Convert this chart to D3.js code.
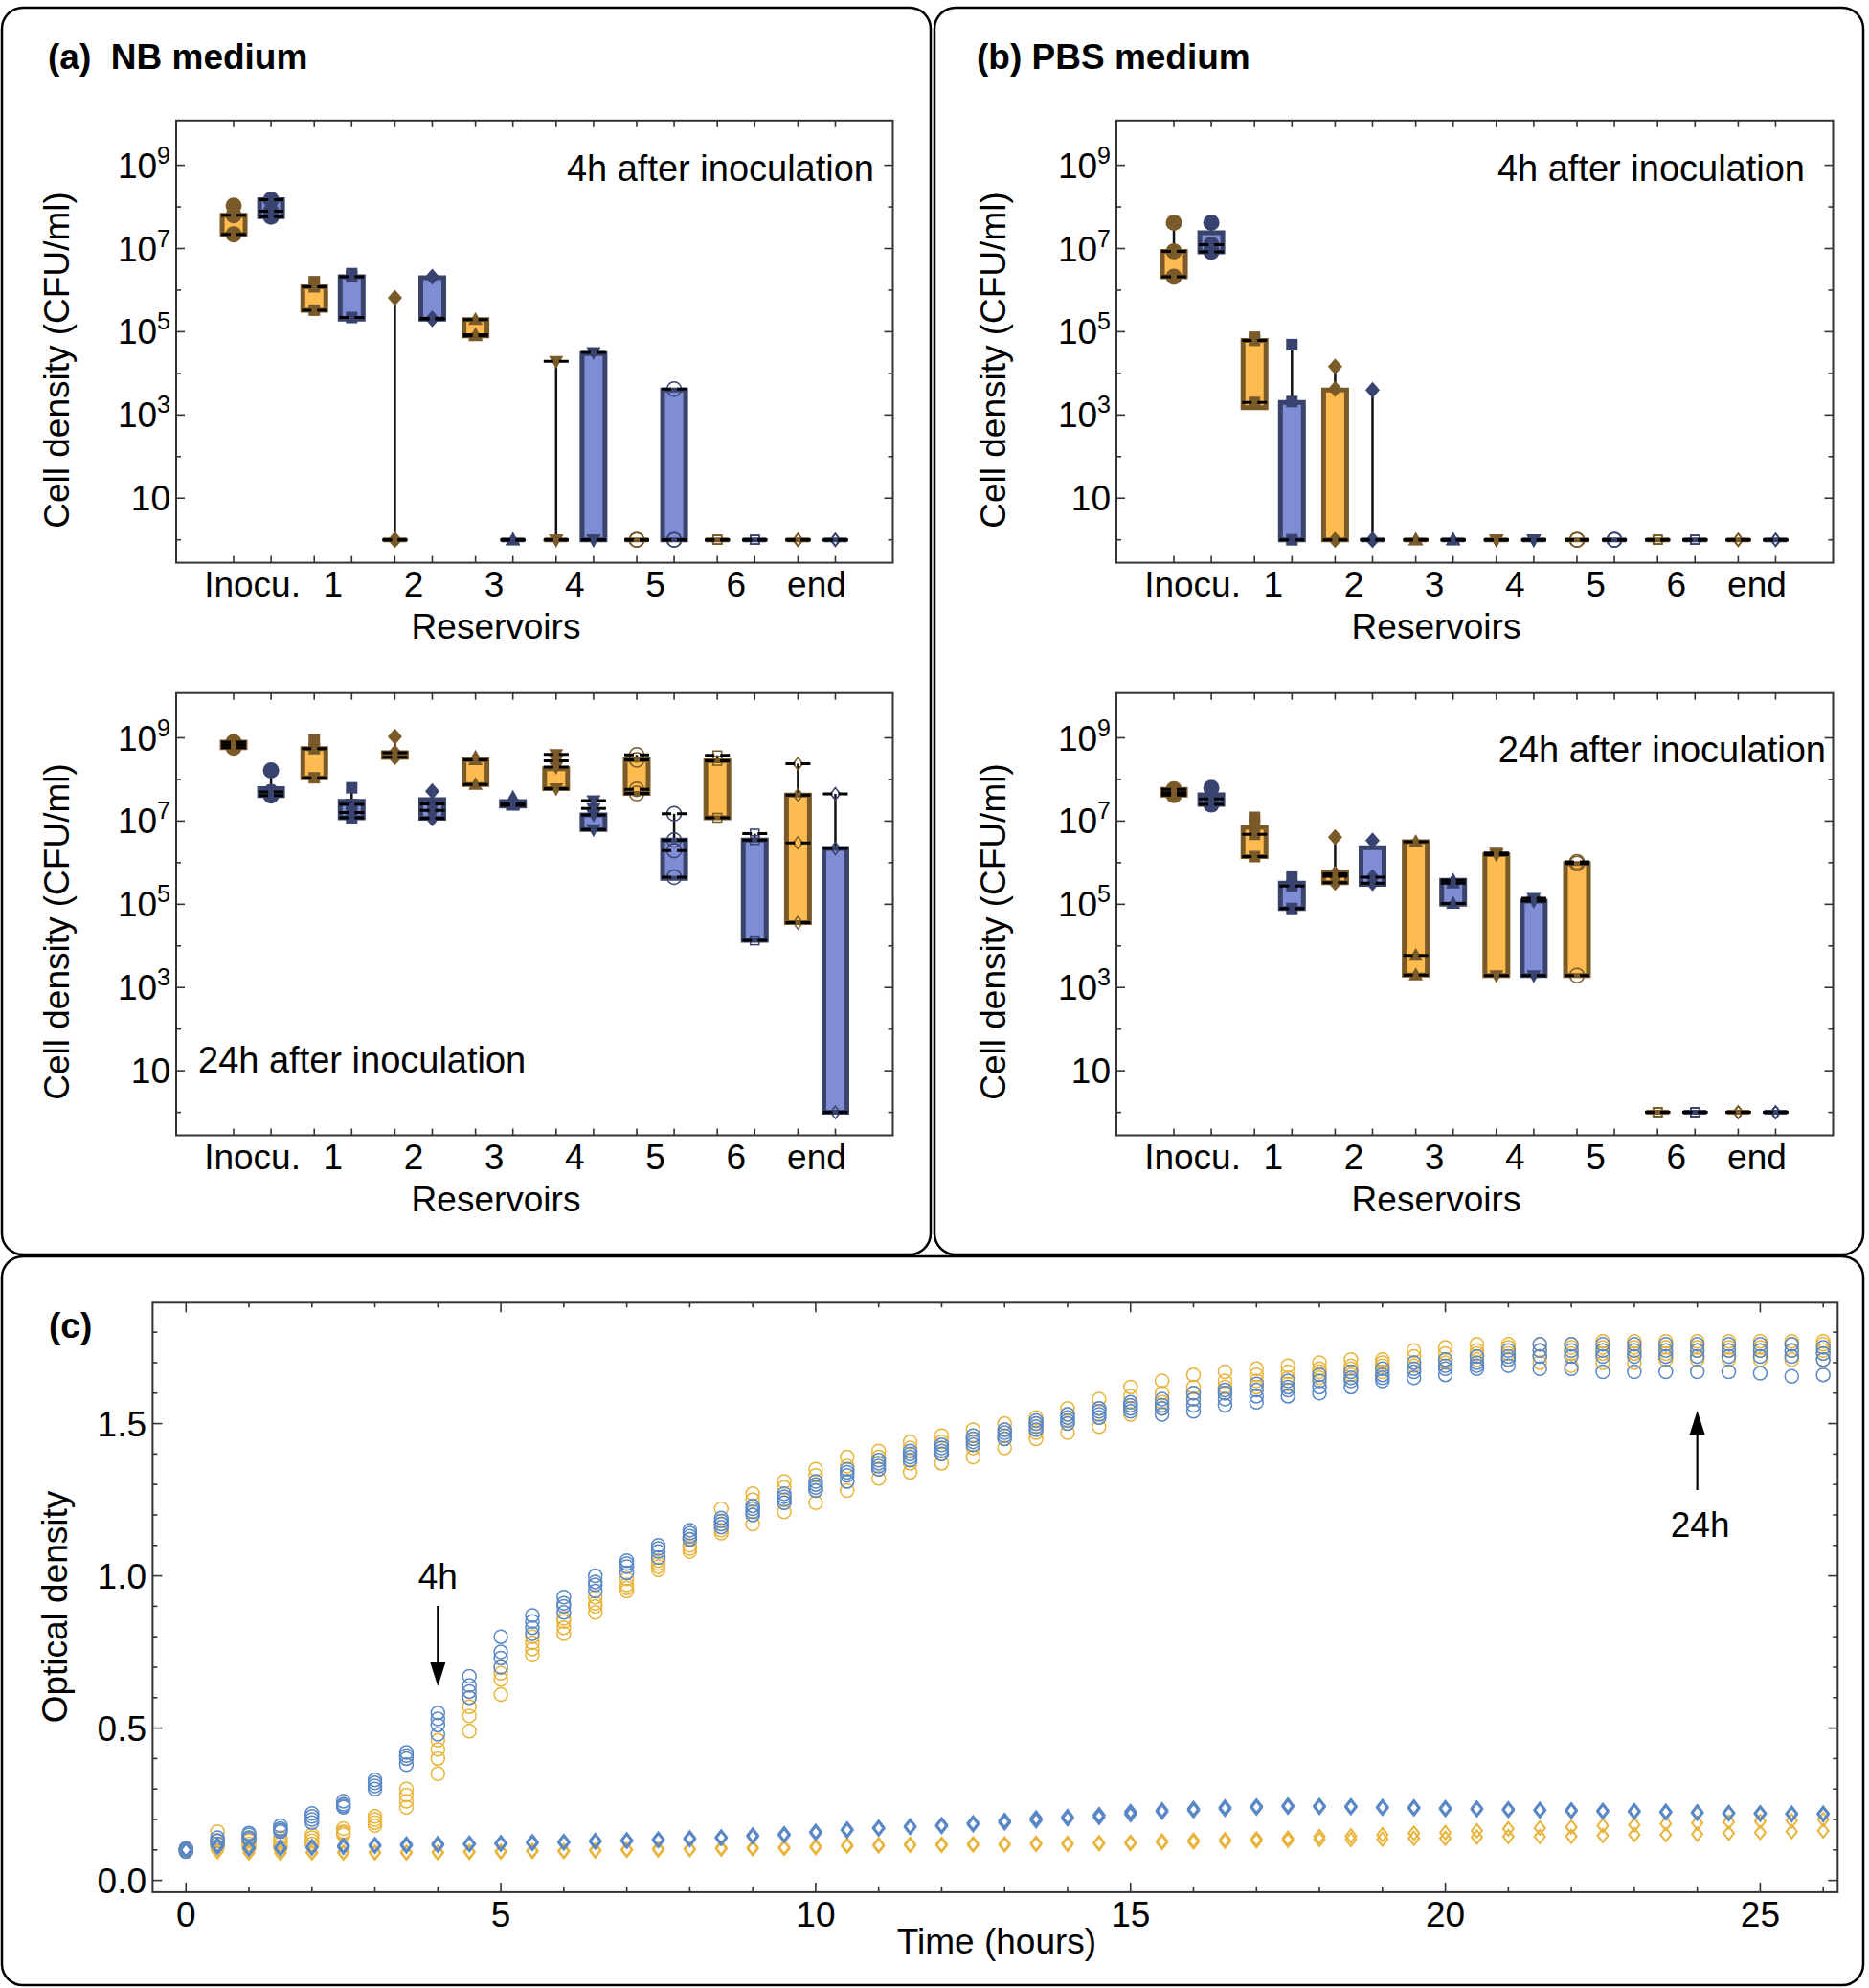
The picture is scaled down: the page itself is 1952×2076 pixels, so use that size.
<!DOCTYPE html>
<html><head><meta charset="utf-8">
<script src="https://cdn.jsdelivr.net/npm/d3@7"></script>
<style>
body{margin:0;background:#fff}
svg{display:block}
text{font-family:"Liberation Sans",Arial,Helvetica,sans-serif;fill:#000}
</style>
</head><body>
<svg id="fig" width="1952" height="2076"></svg>
<script>
// ---------------- DATA ----------------
const reservoirs = ["Inocu.","1","2","3","4","5","6","end"];
const cfuTickExponents = [1,3,5,7,9];

// NB medium, 4h (CFU/ml; 1 = below detection)
const nb4hOrangePts = [[1.07e8,6.3e7,2.2e7],[1.6e6,1.2e6,3.3e5],[6.5e5,1,1],[1.95e5,8.5e4,7.9e4],[1.95e4,1,1],[1,1,1],[1,1,1],[1,1,1]];
const nb4hOrangeBox = [[2.2e7,6.3e7],[3.3e5,1.2e6],[1,1],[7.9e4,1.95e5],[1,1],[1,1],[1,1],[1,1]];
const nb4hBluePts = [[1.5e8,7.9e7,5.8e7],[2.5e6,2.1e6,2.2e5],[2.1e6,2.1e5,2.0e5],[1,1,1],[3.2e4,1,1],[4.2e3,1,1],[1,1,1],[1,1,1]];
const nb4hBlueBox = [[5.8e7,1.5e8],[2.0e5,2.1e6],[2.0e5,2.0e6],[1,1],[1,3.0e4],[1,4.0e3],[1,1],[1,1]];

// PBS medium, 4h
const pbs4hOrangePts = [[4.2e7,8.5e6,2.1e6],[7.4e4,6.2e4,2.0e3],[1.45e4,4.2e3,1],[1,1,1],[1,1,1],[1,1,1],[1,1,1],[1,1,1]];
const pbs4hOrangeBox = [[2.1e6,8.5e6],[1.5e3,6.2e4],[1,4.0e3],[1,1],[1,1],[1,1],[1,1],[1,1]];
const pbs4hBluePts = [[4.2e7,1.23e7,8.3e6],[4.9e4,2.1e3,1],[4.0e3,1,1],[1,1,1],[1,1,1],[1,1,1],[1,1,1],[1,1,1]];
const pbs4hBlueBox = [[8.3e6,2.4e7],[1,2.0e3],[1,1],[1,1],[1,1],[1,1],[1,1],[1,1]];

// NB medium, 24h
const nb24hOrangePts = [[7.9e8,6.8e8,5.8e8],[8.9e8,5.5e8,1.1e8],[1.07e9,4.4e8,3.4e8],[3.4e8,2.95e8,7.6e7],[4.0e8,2.8e8,2.0e8,6.0e7],[3.9e8,2.95e8,5.8e7,4.6e7],[3.8e8,2.8e8,1.2e7],[2.4e8,4.2e7,3.0e6,3.6e4]];
const nb24hOrangeBox = [[5.8e8,7.9e8],[1.1e8,5.5e8],[3.4e8,4.4e8],[7.6e7,2.95e8],[6.0e7,1.8e8],[4.6e7,2.95e8],[1.2e7,2.8e8],[3.6e4,4.2e7]];
const nb24hBluePts = [[1.66e8,5.0e7,4.1e7],[6.3e7,2.5e7,1.6e7,1.2e7],[5.2e7,2.6e7,1.8e7,1.17e7],[3.7e7,2.6e7,2.4e7],[3.1e7,2.0e7,1.4e7,6.3e6],[1.5e7,3.5e6,1.95e6,4.5e5],[5.0e6,3.5e6,1.35e4],[4.5e7,2.2e6,1]];
const nb24hBlueBox = [[4.1e7,6.0e7],[1.2e7,3.0e7],[1.17e7,3.3e7],[2.3e7,2.95e7],[6.3e6,1.4e7],[4.2e5,3.5e6],[1.35e4,3.5e6],[1,2.2e6]];

// PBS medium, 24h
const pbs24hOrangePts = [[5.8e7,4.8e7,4.2e7],[1.23e7,9.3e6,4.8e6,1.4e6],[4.1e6,5.4e5,4.7e5,3.3e5],[3.2e6,5.9e3,2.0e3],[1.7e6,1.55e6,1.95e3],[1.05e6,9.5e5,1.95e3],[1,1,1],[1,1,1]];
const pbs24hOrangeBox = [[4.2e7,5.8e7],[1.4e6,7.1e6],[3.3e5,5.9e5],[2.0e3,3.2e6],[1.95e3,1.55e6],[1.95e3,9.5e5],[1,1],[1,1]];
const pbs24hBluePts = [[6.3e7,3.4e7,2.5e7],[4.5e5,2.75e5,7.9e4],[3.4e6,4.5e5,3.2e5],[3.8e5,3.2e5,1.05e5],[1.4e5,1.2e5,1.95e3],null,[1,1,1],[1,1,1]];
const pbs24hBlueBox = [[2.5e7,4.3e7],[7.9e4,3.2e5],[3.0e5,2.3e6],[1.0e5,3.8e5],[1.95e3,1.2e5],null,[1,1],[1,1]];

// (c) optical density
const hours = [0,0.5,1,1.5,2,2.5,3,3.5,4,4.5,5,5.5,6,6.5,7,7.5,8,8.5,9,9.5,10,10.5,11,11.5,12,12.5,13,13.5,14,14.5,15,15.5,16,16.5,17,17.5,18,18.5,19,19.5,20,20.5,21,21.5,22,22.5,23,23.5,24,24.5,25,25.5,26];
const odTicks = [0,0.5,1,1.5];
const timeTicks = [0,5,10,15,20,25];

const odNbOrange = [
[0.105,0.10,0.10,0.095],[0.16,0.13,0.12,0.11],[0.14,0.13,0.12,0.11],[0.14,0.13,0.12,0.11],[0.15,0.14,0.13,0.12],
[0.17,0.16,0.155,0.15],[0.21,0.20,0.19,0.18],[0.30,0.28,0.26,0.24],[0.46,0.43,0.40,0.35],[0.60,0.57,0.54,0.49],
[0.70,0.68,0.66,0.61],[0.80,0.78,0.76,0.74],[0.86,0.85,0.83,0.81],[0.93,0.91,0.90,0.88],[0.99,0.97,0.96,0.95],
[1.05,1.04,1.03,1.02],[1.12,1.10,1.09,1.08],[1.22,1.17,1.15,1.14],[1.27,1.25,1.20,1.17],[1.31,1.29,1.24,1.21],
[1.35,1.33,1.28,1.24],[1.39,1.36,1.31,1.28],[1.41,1.39,1.35,1.32],[1.44,1.42,1.37,1.34],[1.46,1.44,1.40,1.37],
[1.48,1.45,1.42,1.39],[1.50,1.48,1.45,1.42],[1.52,1.50,1.47,1.45],[1.55,1.53,1.50,1.47],[1.58,1.55,1.52,1.49],
[1.62,1.59,1.56,1.53],[1.64,1.60,1.57,1.55],[1.66,1.62,1.60,1.58],[1.67,1.64,1.62,1.60],[1.68,1.66,1.64,1.62],
[1.69,1.67,1.65,1.63],[1.70,1.68,1.67,1.65],[1.71,1.69,1.68,1.66],[1.71,1.70,1.69,1.67],[1.74,1.72,1.70,1.69],
[1.75,1.73,1.71,1.70],[1.76,1.74,1.73,1.71],[1.76,1.75,1.73,1.71],[1.76,1.74,1.72,1.70],[1.76,1.75,1.73,1.69],
[1.77,1.75,1.73,1.70],[1.77,1.75,1.73,1.70],[1.77,1.75,1.73,1.71],[1.77,1.75,1.74,1.71],[1.77,1.75,1.74,1.71],
[1.77,1.75,1.74,1.71],[1.77,1.76,1.74,1.71],[1.77,1.76,1.74,1.71]];

const odNbBlue = [
[0.105,0.10,0.10,0.095],[0.14,0.13,0.13,0.12],[0.155,0.15,0.14,0.135],[0.18,0.17,0.165,0.16],[0.22,0.21,0.20,0.19],
[0.26,0.25,0.245,0.24],[0.33,0.32,0.31,0.30],[0.42,0.41,0.40,0.38],[0.55,0.53,0.51,0.48],[0.67,0.64,0.62,0.60],
[0.80,0.75,0.73,0.70],[0.87,0.85,0.83,0.81],[0.93,0.91,0.90,0.88],[1.00,0.98,0.97,0.95],[1.05,1.04,1.03,1.01],
[1.10,1.09,1.08,1.06],[1.15,1.14,1.13,1.12],[1.19,1.18,1.17,1.16],[1.23,1.22,1.21,1.20],[1.27,1.26,1.25,1.24],
[1.31,1.30,1.29,1.28],[1.35,1.34,1.33,1.31],[1.38,1.37,1.36,1.35],[1.41,1.40,1.39,1.38],[1.43,1.42,1.41,1.40],
[1.46,1.45,1.44,1.43],[1.48,1.47,1.46,1.45],[1.51,1.50,1.49,1.48],[1.53,1.52,1.51,1.50],[1.55,1.54,1.53,1.52],
[1.57,1.56,1.55,1.54],[1.58,1.56,1.55,1.53],[1.60,1.58,1.56,1.54],[1.61,1.60,1.58,1.56],[1.63,1.61,1.59,1.57],
[1.64,1.62,1.61,1.59],[1.66,1.64,1.62,1.60],[1.67,1.65,1.64,1.62],[1.68,1.66,1.65,1.64],[1.70,1.68,1.67,1.65],
[1.71,1.69,1.68,1.66],[1.72,1.70,1.69,1.68],[1.74,1.72,1.71,1.69],[1.76,1.74,1.72,1.68],[1.76,1.74,1.72,1.68],
[1.76,1.74,1.72,1.67],[1.76,1.74,1.72,1.67],[1.76,1.74,1.72,1.67],[1.76,1.74,1.72,1.67],[1.76,1.74,1.72,1.67],
[1.76,1.74,1.72,1.665],[1.76,1.74,1.72,1.655],[1.75,1.73,1.71,1.66]];

const odPbsOrange = [
[0.10,0.10],[0.097,0.094],[0.093,0.09],[0.092,0.089],[0.093,0.09],[0.093,0.09],[0.093,0.09],[0.093,0.09],[0.093,0.09],[0.095,0.092],
[0.096,0.093],[0.098,0.095],[0.098,0.095],[0.10,0.097],[0.102,0.099],[0.104,0.10],[0.104,0.101],[0.107,0.103],[0.108,0.104],[0.109,0.105],
[0.112,0.108],[0.116,0.112],[0.117,0.113],[0.119,0.115],[0.119,0.115],[0.12,0.116],[0.12,0.116],[0.122,0.118],[0.122,0.118],[0.124,0.12],
[0.125,0.121],[0.129,0.124],[0.132,0.126],[0.134,0.128],[0.136,0.13],[0.138,0.131],[0.144,0.134],[0.146,0.134],[0.150,0.135],[0.155,0.138],
[0.157,0.138],[0.163,0.142],[0.169,0.144],[0.172,0.144],[0.175,0.145],[0.18,0.147],[0.182,0.15],[0.186,0.15],[0.188,0.152],[0.192,0.155],
[0.194,0.157],[0.196,0.16],[0.20,0.163]];

const odPbsBlue = [
[0.10,0.10],[0.115,0.11],[0.108,0.104],[0.108,0.105],[0.11,0.107],[0.114,0.11],[0.117,0.113],[0.118,0.114],[0.12,0.116],[0.121,0.118],
[0.123,0.12],[0.126,0.122],[0.127,0.124],[0.13,0.127],[0.132,0.129],[0.135,0.132],[0.139,0.135],[0.142,0.139],[0.148,0.144],[0.152,0.148],
[0.16,0.156],[0.168,0.164],[0.173,0.17],[0.178,0.175],[0.182,0.178],[0.188,0.184],[0.196,0.19],[0.204,0.197],[0.209,0.203],[0.215,0.208],
[0.225,0.217],[0.231,0.225],[0.235,0.23],[0.24,0.235],[0.243,0.239],[0.246,0.242],[0.245,0.241],[0.244,0.24],[0.242,0.238],[0.24,0.236],
[0.238,0.234],[0.236,0.233],[0.234,0.231],[0.232,0.229],[0.231,0.228],[0.229,0.226],[0.228,0.225],[0.226,0.223],[0.224,0.221],[0.222,0.22],
[0.221,0.218],[0.22,0.217],[0.22,0.217]];

// ---------------- DRAWING ----------------
const svg = d3.select("#fig");
const FS = 37;

function panelBorder(x,y,w,h){
  svg.append("rect").attr("x",x).attr("y",y).attr("width",w).attr("height",h)
    .attr("rx",22).attr("ry",22).attr("fill","none").attr("stroke","#000").attr("stroke-width",2.5);
}
panelBorder(2,8,970,1302);
panelBorder(976,8,970,1302);
panelBorder(2,1312,1944,761);

function text(g,x,y,s,opts={}){
  const t=g.append("text").attr("x",x).attr("y",y).text(s)
    .style("font-size",(opts.size||FS)+"px");
  if(opts.anchor) t.attr("text-anchor",opts.anchor);
  if(opts.bold) t.style("font-weight","bold");
  if(opts.pre) t.style("white-space","pre");
  if(opts.rotate) t.attr("transform",`rotate(-90,${x},${y})`);
  return t;
}

function marker(g,type,cx,cy,color){
  switch(type){
    case 0: g.append("circle").attr("cx",cx).attr("cy",cy).attr("r",8.5).attr("fill",color); break;
    case 1: g.append("rect").attr("x",cx-6).attr("y",cy-6).attr("width",12).attr("height",12).attr("fill",color); break;
    case 2: g.append("path").attr("d",`M${cx},${cy-8.5}L${cx+7.5},${cy}L${cx},${cy+8.5}L${cx-7.5},${cy}Z`).attr("fill",color); break;
    case 3: g.append("path").attr("d",`M${cx},${cy-8}L${cx+7.5},${cy+5.5}L${cx-7.5},${cy+5.5}Z`).attr("fill",color); break;
    case 4: g.append("path").attr("d",`M${cx},${cy+8}L${cx+7.5},${cy-5.5}L${cx-7.5},${cy-5.5}Z`).attr("fill",color); break;
    case 5: g.append("circle").attr("cx",cx).attr("cy",cy).attr("r",7.5).attr("fill","none").attr("stroke",color).attr("stroke-width",1.5); break;
    case 6: g.append("rect").attr("x",cx-4.5).attr("y",cy-4.5).attr("width",9).attr("height",9).attr("fill","none").attr("stroke",color).attr("stroke-width",1.5); break;
    case 7: g.append("path").attr("d",`M${cx},${cy-6.5}L${cx+5},${cy}L${cx},${cy+6.5}L${cx-5},${cy}Z`).attr("fill","none").attr("stroke",color).attr("stroke-width",1.5); break;
  }
}

function boxPanel(fx, fy, oPts, oBox, bPts, bBox, note, noteX, noteY, noteAnchor, ylabX, ylabY, xlabX){
  const W=748.5, H=461.8;
  const x = d3.scaleLinear().domain([-0.945, 7.945]).range([fx, fx+W]);
  const y = d3.scaleLog().domain([0.2818, 1.194e10]).range([fy+H, fy]);
  const g = svg.append("g");
  const series = [
    {pts:oPts, box:oBox, off:-0.232, fill:"#FDBB50", stroke:"#7A5A28", mark:"#7A5A28"},
    {pts:bPts, box:bBox, off:0.232, fill:"#7F8DD5", stroke:"#3A4369", mark:"#394370"}
  ];
  const decades = d3.range(0,10).map(e=>Math.pow(10,e));
  decades.forEach((v,i)=>{
    const len = (i%2===1)?9:5;
    const yy=y(v);
    g.append("line").attr("x1",fx).attr("x2",fx+len).attr("y1",yy).attr("y2",yy).attr("stroke","#333").attr("stroke-width",1.6);
    g.append("line").attr("x1",fx+W).attr("x2",fx+W-len).attr("y1",yy).attr("y2",yy).attr("stroke","#333").attr("stroke-width",1.6);
  });
  reservoirs.forEach((r,i)=>{
    series.forEach(s=>{
      const xx=x(i+s.off);
      g.append("line").attr("x1",xx).attr("x2",xx).attr("y1",fy+H).attr("y2",fy+H-7).attr("stroke","#333").attr("stroke-width",1.6);
      g.append("line").attr("x1",xx).attr("x2",xx).attr("y1",fy).attr("y2",fy+7).attr("stroke","#333").attr("stroke-width",1.6);
    });
  });
  reservoirs.forEach((r,i)=>{
    series.forEach(s=>{
      const pts=s.pts[i]; if(!pts) return;
      const cx=x(i+s.off); const [q1,q3]=s.box[i];
      const mx=d3.max(pts), mn=d3.min(pts);
      if(mx>q3) g.append("line").attr("x1",cx).attr("x2",cx).attr("y1",y(q3)).attr("y2",y(mx)).attr("stroke","#111").attr("stroke-width",2.5);
      if(mn<q1) g.append("line").attr("x1",cx).attr("x2",cx).attr("y1",y(q1)).attr("y2",y(mn)).attr("stroke","#111").attr("stroke-width",2.5);
      g.append("path").attr("d",`M${cx-12},${y(q3)}H${cx+12}V${y(q1)}H${cx-12}Z`)
        .attr("fill",s.fill).attr("stroke",s.stroke).attr("stroke-width",5).attr("stroke-linejoin","miter");
      pts.forEach(v=>marker(g,i,cx,y(v),s.mark));
      pts.forEach(v=>{
        const outside = v>q3*1.0001 || v<q1*0.9999;
        if(outside && i<4) return;
        g.append("line").attr("x1",cx-13).attr("x2",cx+13).attr("y1",y(v)).attr("y2",y(v))
          .attr("stroke","#000").attr("stroke-width",3).attr("stroke-dasharray","10,6,10");
      });
    });
  });
  g.append("rect").attr("x",fx).attr("y",fy).attr("width",W).attr("height",H)
    .attr("fill","none").attr("stroke","#333").attr("stroke-width",2);
  cfuTickExponents.forEach(e=>{
    const yy=y(Math.pow(10,e))+13;
    const t=g.append("text").attr("x",fx-6).attr("y",yy).attr("text-anchor","end").style("font-size",FS+"px");
    t.append("tspan").text("10");
    if(e!==1) t.append("tspan").attr("dy",-15).style("font-size","25px").text(String(e));
  });
  reservoirs.forEach((r,i)=>text(g,x(i),fy+H+35,r,{anchor:"middle"}));
  text(g,xlabX,fy+H+79,"Reservoirs",{anchor:"middle"});
  text(g,ylabX,ylabY,"Cell density (CFU/ml)",{anchor:"middle",rotate:true});
  text(g,noteX,noteY,note,{anchor:noteAnchor,size:38});
}

boxPanel(184,125.8,nb4hOrangePts,nb4hOrangeBox,nb4hBluePts,nb4hBlueBox,"4h after inoculation",913,189,"end",72,376,518);
boxPanel(184,723.7,nb24hOrangePts,nb24hOrangeBox,nb24hBluePts,nb24hBlueBox,"24h after inoculation",207,1120,"start",72,973,518);
boxPanel(1166,125.8,pbs4hOrangePts,pbs4hOrangeBox,pbs4hBluePts,pbs4hBlueBox,"4h after inoculation",1885,189,"end",1050,376,1500);
boxPanel(1166,723.7,pbs24hOrangePts,pbs24hOrangeBox,pbs24hBluePts,pbs24hBlueBox,"24h after inoculation",1907,796,"end",1050,973,1500);

text(svg,50,72,"(a)  NB medium",{bold:true,pre:true});
text(svg,1020,72,"(b) PBS medium",{bold:true,pre:true});

// ---------------- panel (c) ----------------
(function(){
  const L=159.4,R=1919.3,T=1360.3,B=1975.9;
  const x=d3.scaleLinear().domain([-0.53,26.23]).range([L,R]);
  const y=d3.scaleLinear().domain([-0.0386,1.897]).range([B,T]);
  const g=svg.append("g");
  const ORANGE="#E8B43C", BLUE="#5A88C6";
  d3.range(0,27).forEach(h=>{
    const len=(h%5===0)?10:5, xx=x(h);
    g.append("line").attr("x1",xx).attr("x2",xx).attr("y1",B).attr("y2",B-len).attr("stroke","#333").attr("stroke-width",1.6);
    g.append("line").attr("x1",xx).attr("x2",xx).attr("y1",T).attr("y2",T+len).attr("stroke","#333").attr("stroke-width",1.6);
  });
  d3.range(0,19).forEach(k=>{
    const v=k/10, len=(k%5===0)?10:5, yy=y(v);
    g.append("line").attr("x1",L).attr("x2",L+len).attr("y1",yy).attr("y2",yy).attr("stroke","#333").attr("stroke-width",1.6);
    g.append("line").attr("x1",R).attr("x2",R-len).attr("y1",yy).attr("y2",yy).attr("stroke","#333").attr("stroke-width",1.6);
  });
  function circles(data,color){
    data.forEach((row,i)=>row.forEach(v=>{
      g.append("circle").attr("cx",x(hours[i])).attr("cy",y(v)).attr("r",7)
        .attr("fill","none").attr("stroke",color).attr("stroke-width",1.5);
    }));
  }
  function diamonds(data,color,sw){
    data.forEach((row,i)=>row.forEach(v=>{
      const cx=x(hours[i]), cy=y(v);
      g.append("path").attr("d",`M${cx},${cy-7}L${cx+5.5},${cy}L${cx},${cy+7}L${cx-5.5},${cy}Z`)
        .attr("fill","none").attr("stroke",color).attr("stroke-width",sw);
    }));
  }
  circles(odNbOrange,ORANGE);
  circles(odNbBlue,BLUE);
  diamonds(odPbsOrange,ORANGE,2);
  diamonds(odPbsBlue,BLUE,2.5);
  g.append("rect").attr("x",L).attr("y",T).attr("width",R-L).attr("height",B-T)
    .attr("fill","none").attr("stroke","#333").attr("stroke-width",2);
  const f=d3.format(".1f");
  odTicks.forEach(v=>text(g,153,y(v)+13,f(v),{anchor:"end"}));
  timeTicks.forEach(v=>text(g,x(v),2012,String(v),{anchor:"middle"}));
  text(g,1041,2040,"Time (hours)",{anchor:"middle"});
  text(g,70,1678,"Optical density",{anchor:"middle",rotate:true});
  text(svg,51,1397,"(c)",{bold:true});
  const x4=x(4), x24=x(24);
  text(g,x4,1659,"4h",{anchor:"middle"});
  g.append("line").attr("x1",x4).attr("x2",x4).attr("y1",1677).attr("y2",1740).attr("stroke","#000").attr("stroke-width",2.2);
  g.append("path").attr("d",`M${x4-8},${1736}L${x4+8},${1736}L${x4},${1761}Z`).attr("fill","#000");
  text(g,x24+3,1605,"24h",{anchor:"middle"});
  g.append("line").attr("x1",x24).attr("x2",x24).attr("y1",1556).attr("y2",1494).attr("stroke","#000").attr("stroke-width",2.2);
  g.append("path").attr("d",`M${x24-8},${1498}L${x24+8},${1498}L${x24},${1473}Z`).attr("fill","#000");
})();
</script>
</body></html>
